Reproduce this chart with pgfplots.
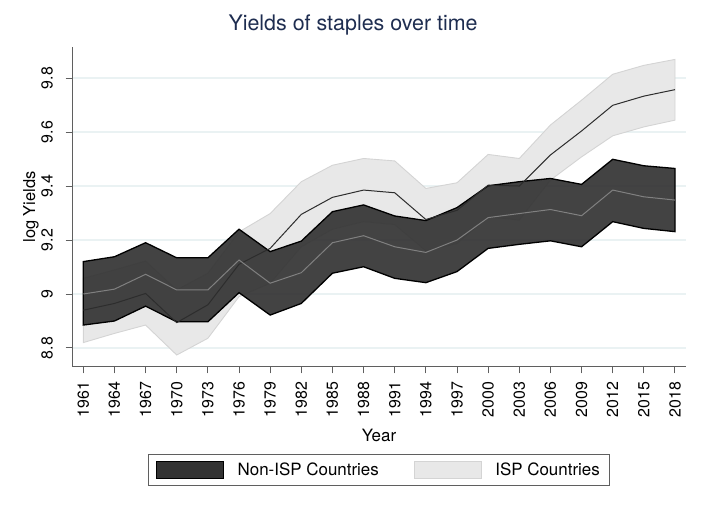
\documentclass[border=0pt]{standalone}
\usepackage{fontspec}
\setmainfont{TeX Gyre Heros}
\usepackage{pgfplots}
\usepackage{pgfplotstable}
\pgfplotsset{compat=1.18}
\usepgfplotslibrary{fillbetween}

\definecolor{bandDark}{RGB}{51,51,51}
\definecolor{bandLight}{RGB}{232,232,232}
\definecolor{bandLightEdge}{RGB}{212,212,212}
\definecolor{meanGray}{RGB}{128,128,128}
\definecolor{meanDark}{RGB}{45,45,45}
\definecolor{gridCol}{RGB}{234,242,243}
\definecolor{titleNavy}{RGB}{30,45,80}
\definecolor{axisGray}{RGB}{95,95,95}

% year, lower bound, mean, upper bound of log yields
\pgfplotstableread{
year lo mean hi
1961 8.885 9.000 9.120
1964 8.900 9.018 9.138
1967 8.955 9.073 9.190
1970 8.897 9.015 9.134
1973 8.897 9.015 9.134
1976 9.005 9.126 9.240
1979 8.922 9.040 9.157
1982 8.965 9.079 9.196
1985 9.077 9.190 9.305
1988 9.101 9.216 9.330
1991 9.058 9.175 9.289
1994 9.042 9.154 9.272
1997 9.083 9.200 9.320
2000 9.169 9.283 9.401
2003 9.184 9.298 9.416
2006 9.197 9.313 9.428
2009 9.175 9.290 9.406
2012 9.268 9.385 9.499
2015 9.243 9.360 9.475
2018 9.231 9.348 9.465
}\nonisp

\pgfplotstableread{
year lo mean hi
1961 8.820 8.940 9.058
1964 8.854 8.965 9.089
1967 8.885 9.002 9.122
1970 8.774 8.894 9.015
1973 8.836 8.960 9.077
1976 8.990 9.110 9.230
1979 9.040 9.169 9.298
1982 9.175 9.295 9.416
1985 9.240 9.358 9.477
1988 9.268 9.385 9.502
1991 9.257 9.375 9.493
1994 9.160 9.276 9.391
1997 9.187 9.310 9.412
2000 9.286 9.403 9.517
2003 9.274 9.400 9.502
2006 9.422 9.515 9.626
2009 9.508 9.604 9.718
2012 9.586 9.699 9.814
2015 9.619 9.733 9.847
2018 9.644 9.757 9.869
}\isp

\pgfplotsset{
  frame/.style={
    set layers,
    at={(72bp,142bp)}, anchor=south west,
    scale only axis, width=614bp, height=320bp,
    xmin=1959.91, xmax=2019.06, ymin=8.7296, ymax=9.915,
  }
}

\begin{document}
\begin{tikzpicture}
% axes, grid, labels, legend and the ISP band
\begin{axis}[
  frame,
  axis x line*=bottom, axis y line*=left,
  axis line style={axisGray, line width=1bp, -},
  xtick={1961,1964,...,2018},
  ytick={8.8,9.0,9.2,9.4,9.6,9.8},
  yticklabels={8.8,9,9.2,9.4,9.6,9.8},
  tick align=outside, major tick length=6.5bp,
  tick style={axisGray, line width=1bp},
  /pgf/number format/assume math mode=true,
  xticklabel style={/pgf/number format/1000 sep={}, rotate=90, anchor=east,
    xshift=-5bp, font=\fontsize{16}{16}\selectfont},
  yticklabel style={rotate=90, anchor=south, yshift=9bp,
    font=\fontsize{16}{16}\selectfont},
  ymajorgrids, major grid style={gridCol, line width=1.2bp},
  title={Yields of staples over time},
  title style={at={(axis description cs:0.4577,1.05)}, anchor=center,
    font=\fontsize{21.5}{21.5}\selectfont, text=titleNavy},
  xlabel={Year},
  xlabel style={at={(axis description cs:0.5,-0.2125)}, anchor=center,
    font=\fontsize{17}{17}\selectfont},
  ylabel={log Yields},
  ylabel style={at={(axis description cs:-0.0668,0.5)}, anchor=center, rotate=0,
    font=\fontsize{16.5}{16.5}\selectfont},
  legend columns=2,
  legend cell align=left,
  legend style={at={(axis description cs:0.5,-0.272)}, anchor=north,
    draw=axisGray, line width=0.8bp, font=\fontsize{17}{17}\selectfont,
    inner xsep=8bp, inner ysep=6.5bp,
    /tikz/every odd column/.append style={column sep=12bp},
    /tikz/every even column/.append style={column sep=33bp}},
]
  \addplot[name path=ilo, draw=none, forget plot] table[x=year,y=lo]{\isp};
  \addplot[name path=ihi, draw=none, forget plot] table[x=year,y=hi]{\isp};
  \addplot[fill=bandLight, draw=bandLightEdge, line width=0.9bp, forget plot]
    fill between[of=ihi and ilo];
  \addplot[meanDark, line width=1bp, forget plot] table[x=year,y=mean]{\isp};

  \addlegendimage{legend image code/.code={
    \draw[fill=bandDark, draw=black, line width=0.8bp] (0bp,-8.5bp) rectangle (66.7bp,8.5bp);}}
  \addlegendentry{Non-ISP Countries}
  \addlegendimage{legend image code/.code={
    \draw[fill=bandLight, draw=bandLightEdge, line width=0.8bp] (0bp,-8.5bp) rectangle (66.7bp,8.5bp);}}
  \addlegendentry{ISP Countries}
\end{axis}
% Non-ISP band and mean, laid over the ISP band
\begin{axis}[frame, hide axis]
  \addplot[name path=nlo, draw=none] table[x=year,y=lo]{\nonisp};
  \addplot[name path=nhi, draw=none] table[x=year,y=hi]{\nonisp};
  \addplot[fill=bandDark, fill opacity=0.92, draw=black, line width=1.3bp]
    fill between[of=nhi and nlo];
  \addplot[meanGray, line width=1bp] table[x=year,y=mean]{\nonisp};
\end{axis}
\path (0bp,0bp) rectangle (703bp,509bp);
\end{tikzpicture}
\end{document}
